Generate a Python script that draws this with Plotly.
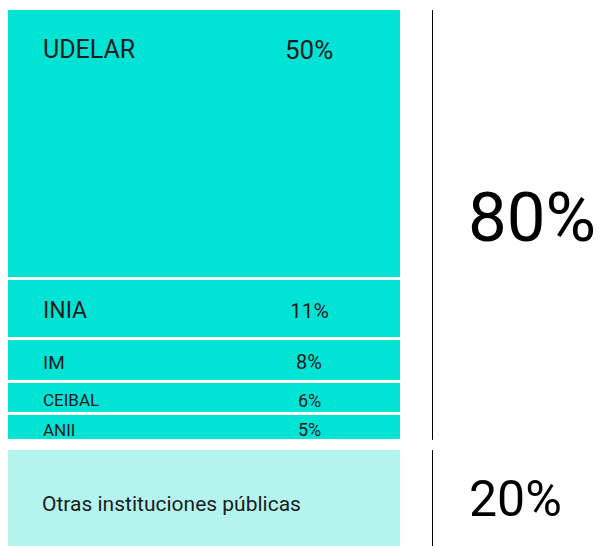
import plotly.graph_objects as go

# Data
institutions = ["UDELAR", "INIA", "IM", "CEIBAL", "ANII"]
shares = [50, 11, 8, 6, 5]
pct_labels = ["50%", "11%", "8%", "6%", "5%"]
other_label = "Otras instituciones públicas"
other_share = 20
group_labels = ["80%", "20%"]

# Styles
MAIN = "#00E3D5"
LIGHT = "#B3F4EF"
TEXT = "#1c1c1c"
FONT = "Roboto"
label_sizes = [25, 23, 19, 17, 17]
pct_sizes = [26, 21, 20, 18, 18]
GAP = 1.3  # visual gap between groups (in % units)

bases = []
acc = 0
for s in shares:
    bases.append(acc)
    acc += s
top_total = acc
other_base = top_total + GAP

xs = [204] * (len(shares) + 1)
ys = shares + [other_share]
bs = bases + [other_base]
colors = [MAIN] * len(shares) + [LIGHT]

fig = go.Figure()
fig.add_trace(go.Bar(
    x=xs, y=ys, base=bs, width=395,
    marker=dict(color=colors, line=dict(color="white", width=3)),
    hoverinfo="skip", showlegend=False,
))

annotations = []
for i, (name, s, b, p) in enumerate(zip(institutions, shares, bases, pct_labels)):
    if i == 0:
        yy, anchor, shift = b, "top", -24
    else:
        yy, anchor, shift = b + s / 2, "middle", -2
    annotations.append(dict(x=41, y=yy, text=name, xanchor="left", yanchor=anchor, yshift=shift,
                            showarrow=False, font=dict(family=FONT, size=label_sizes[i], color=TEXT)))
    annotations.append(dict(x=309, y=yy, text=p, xanchor="center", yanchor=anchor, yshift=shift,
                            showarrow=False, font=dict(family=FONT, size=pct_sizes[i], color=TEXT)))

annotations.append(dict(x=40, y=other_base + other_share / 2, text=other_label, xanchor="left",
                        yanchor="middle", yshift=-1, showarrow=False,
                        font=dict(family=FONT, size=21, color=TEXT)))

annotations.append(dict(x=466, y=top_total / 2, text=group_labels[0], xanchor="left", yanchor="middle",
                        yshift=7, showarrow=False, font=dict(family=FONT, size=69, color="#000000")))
annotations.append(dict(x=467, y=other_base + other_share / 2, text=group_labels[1], xanchor="left",
                        yanchor="middle", yshift=4, showarrow=False,
                        font=dict(family=FONT, size=50, color="#000000")))

shapes = [
    dict(type="line", x0=432.5, x1=432.5, y0=0.3, y1=top_total - 0.3, line=dict(color="#000000", width=1)),
    dict(type="line", x0=432.5, x1=432.5, y0=other_base + 0.3, y1=other_base + other_share,
         line=dict(color="#000000", width=1)),
]

fig.update_layout(
    width=604, height=546,
    margin=dict(l=0, r=0, t=0, b=0),
    paper_bgcolor="white", plot_bgcolor="white",
    xaxis=dict(range=[8, 612], visible=False, fixedrange=True),
    yaxis=dict(range=[100.79, -0.092], visible=False, fixedrange=True),
    annotations=annotations, shapes=shapes,
    bargap=0,
)

fig.write_html("out.html")
